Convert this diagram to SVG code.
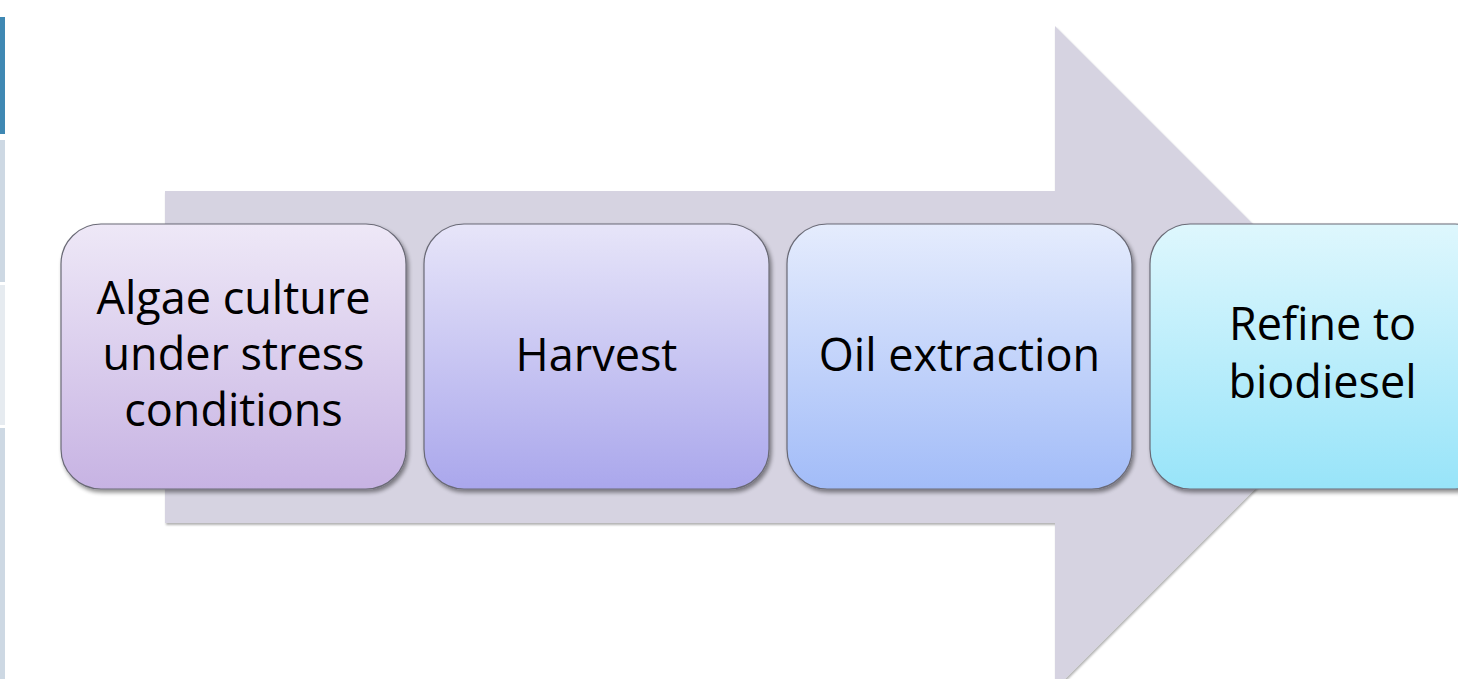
<svg xmlns="http://www.w3.org/2000/svg" width="1458" height="679" viewBox="0 0 1458 679">
  <defs>
    <linearGradient id="g1" x1="0" y1="0" x2="0" y2="1">
      <stop offset="0" stop-color="#eee8f7"/>
      <stop offset="1" stop-color="#c7b3e3"/>
    </linearGradient>
    <linearGradient id="g2" x1="0" y1="0" x2="0" y2="1">
      <stop offset="0" stop-color="#e7e5f9"/>
      <stop offset="1" stop-color="#aaa7ec"/>
    </linearGradient>
    <linearGradient id="g3" x1="0" y1="0" x2="0" y2="1">
      <stop offset="0" stop-color="#e5ecfd"/>
      <stop offset="1" stop-color="#a2bcf8"/>
    </linearGradient>
    <linearGradient id="g4" x1="0" y1="0" x2="0" y2="1">
      <stop offset="0" stop-color="#def7fd"/>
      <stop offset="1" stop-color="#98e4f9"/>
    </linearGradient>
    <filter id="shadow" x="-10%" y="-10%" width="130%" height="130%">
      <feGaussianBlur in="SourceAlpha" stdDeviation="2"/>
      <feOffset dx="1.5" dy="2.5" result="b"/>
      <feComponentTransfer><feFuncA type="linear" slope="0.45"/></feComponentTransfer>
      <feMerge><feMergeNode/><feMergeNode in="SourceGraphic"/></feMerge>
    </filter>
    <filter id="arrowShadow" x="-5%" y="-5%" width="110%" height="110%">
      <feGaussianBlur in="SourceAlpha" stdDeviation="1"/>
      <feOffset dx="1" dy="1.5" result="b"/>
      <feComponentTransfer><feFuncA type="linear" slope="0.3"/></feComponentTransfer>
      <feMerge><feMergeNode/><feMergeNode in="SourceGraphic"/></feMerge>
    </filter>
  </defs>
  <style>
    .box { stroke: #6a6a76; stroke-width: 1.2; filter: url(#shadow); }
    .label { font-family: "Open Sans", "Liberation Sans", sans-serif; font-size: 45px; fill: #000; text-anchor: middle; }
  </style>

  <rect width="1458" height="679" fill="#ffffff"/>

  <!-- side tab strip -->
  <g id="side-tabs">
    <rect x="0" y="17" width="5" height="117" fill="#3f88b3"/>
    <rect x="0" y="140" width="5" height="142" fill="#cdd8e3"/>
    <rect x="0" y="285" width="5" height="140" fill="#e6ebf0"/>
    <rect x="0" y="428" width="5" height="251" fill="#cdd8e3"/>
  </g>

  <!-- background process arrow -->
  <g id="connectors">
    <path d="M165,191 L1055,191 L1055,26 L1386.5,357.5 L1055,689 L1055,523 L165,523 Z" fill="#d6d3e1" filter="url(#arrowShadow)"/>
  </g>

  <g id="step-1">
    <rect class="box" x="61" y="224" width="345" height="265" rx="40" ry="40" fill="url(#g1)"/>
    <text class="label" x="233.5" y="314">Algae culture</text>
    <text class="label" x="233.5" y="370">under stress</text>
    <text class="label" x="233.5" y="426">conditions</text>
  </g>

  <g id="step-2">
    <rect class="box" x="424" y="224" width="345" height="265" rx="40" ry="40" fill="url(#g2)"/>
    <text class="label" x="596.5" y="371">Harvest</text>
  </g>

  <g id="step-3">
    <rect class="box" x="787" y="224" width="345" height="265" rx="40" ry="40" fill="url(#g3)"/>
    <text class="label" x="959.5" y="371">Oil extraction</text>
  </g>

  <g id="step-4">
    <rect class="box" x="1150" y="224" width="345" height="265" rx="40" ry="40" fill="url(#g4)"/>
    <text class="label" x="1322.5" y="340">Refine to</text>
    <text class="label" x="1322.5" y="398">biodiesel</text>
  </g>
</svg>
